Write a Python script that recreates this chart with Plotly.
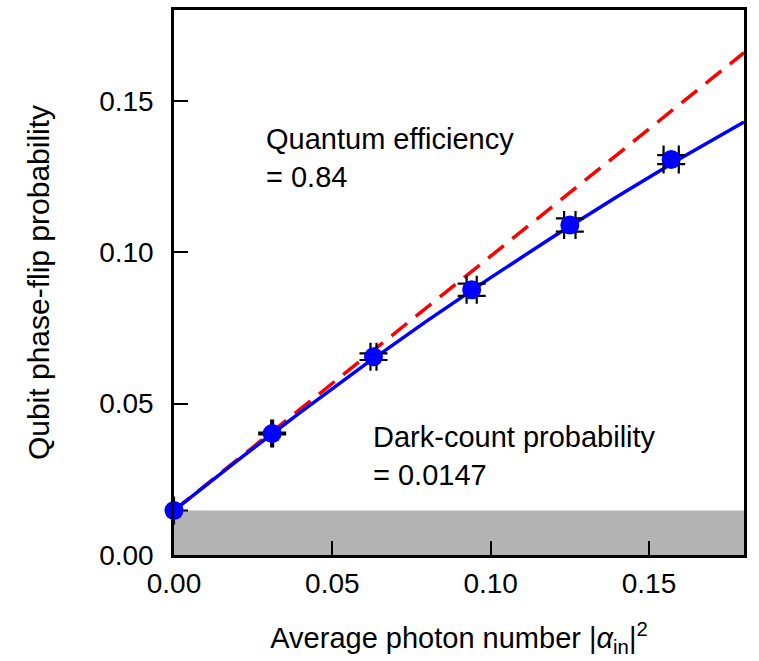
import plotly.graph_objects as go

# ---- data ----
photon_number = [0.0, 0.031, 0.063, 0.094, 0.125, 0.157]
phase_flip = [0.0147, 0.0401, 0.0655, 0.0876, 0.1090, 0.1306]
err_x = [0.0, 0.0003, 0.00095, 0.0016, 0.0018, 0.0024]
err_y = [0.0, 0.0003, 0.0011, 0.0020, 0.0022, 0.0015]

fit_x = [0.0, 0.02, 0.04, 0.06, 0.08, 0.10, 0.12, 0.14, 0.16, 0.18]
fit_y = [0.0147, 0.0312, 0.0472, 0.0626, 0.0774, 0.0916, 0.1053, 0.1184, 0.1310, 0.1430]

ideal_x = [0.0, 0.18]
ideal_y = [0.0147, 0.1659]

dark_count = 0.0147
quantum_eff = 0.84

x_ticks = [0.0, 0.05, 0.10, 0.15]
y_ticks = [0.0, 0.05, 0.10, 0.15]

FONT = "Liberation Sans, Arial, sans-serif"
FS_TEXT = 29
FS_TICK = 28

fig = go.Figure()

# dark-count band
fig.add_trace(go.Scatter(
    x=[0.0, 0.18], y=[dark_count, dark_count], mode="lines",
    line=dict(width=0, color="rgba(0,0,0,0)"), fill="tozeroy",
    fillcolor="#b3b3b3", hoverinfo="skip", showlegend=False))

# ideal efficiency line (red dashed)
fig.add_trace(go.Scatter(
    x=ideal_x, y=ideal_y, mode="lines",
    line=dict(color="#ff0000", width=3.5, dash="20px,11px"),
    showlegend=False))

# fit (blue)
fig.add_trace(go.Scatter(
    x=fit_x, y=fit_y, mode="lines", line=dict(color="#0000ff", width=3.5),
    showlegend=False, cliponaxis=False))

# error bars
fig.add_trace(go.Scatter(
    x=photon_number, y=phase_flip, mode="markers",
    marker=dict(size=1, color="rgba(0,0,0,0)"),
    error_x=dict(type="data", array=err_x, color="black", thickness=2.2, width=14),
    error_y=dict(type="data", array=err_y, color="black", thickness=2.2, width=14),
    showlegend=False, cliponaxis=False))

# data points
fig.add_trace(go.Scatter(
    x=photon_number, y=phase_flip, mode="markers",
    marker=dict(size=19, color="#0000ff", line=dict(width=0)),
    showlegend=False, cliponaxis=False))

fig.add_annotation(
    x=0.0285, y=0.1435, xref="x", yref="y", xanchor="left", yanchor="top",
    align="left", showarrow=False,
    text=f"Quantum efficiency<br>= {quantum_eff:.2f}",
    font=dict(family=FONT, size=FS_TEXT, color="black"))
fig.add_annotation(
    x=0.0622, y=0.0448, xref="x", yref="y", xanchor="left", yanchor="top",
    align="left", showarrow=False,
    text=f"Dark-count probability<br>= {dark_count}",
    font=dict(family=FONT, size=FS_TEXT, color="black"))

axis_common = dict(
    showline=True, linecolor="black", linewidth=2.5, mirror=True,
    ticks="inside", ticklen=14, tickwidth=2, tickcolor="black",
    showgrid=False, zeroline=False,
    tickfont=dict(family=FONT, size=FS_TICK, color="black"),
)

fig.update_xaxes(
    range=[0, 0.18], tickvals=x_ticks, ticktext=[f"{v:.2f}" for v in x_ticks],
    ticklabelstandoff=2,
    title=dict(text="Average photon number |<i>α</i><sub>in</sub>|<sup>2</sup>",
               font=dict(family=FONT, size=FS_TEXT, color="black"), standoff=30),
    **axis_common)
fig.update_yaxes(
    range=[0, 0.18], tickvals=y_ticks, ticktext=[f"{v:.2f}" for v in y_ticks],
    ticklabelstandoff=12,
    title=dict(text="Qubit phase-flip probability",
               font=dict(family=FONT, size=30, color="black"), standoff=41),
    **axis_common)

fig.update_layout(
    width=759, height=661,
    margin=dict(l=174, r=15, t=7, b=106),
    paper_bgcolor="white", plot_bgcolor="white",
    font=dict(family=FONT, size=FS_TEXT, color="black"),
)

fig.write_html("out.html")
